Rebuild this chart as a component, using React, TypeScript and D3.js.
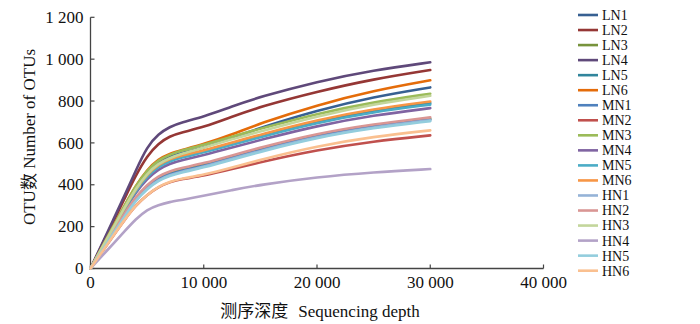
import React from "react";
import * as d3 from "d3";

const depths = [0, 1000, 2000, 3000, 4000, 5000, 6000, 7000, 8000, 10000, 12500, 15000, 20000, 25000, 30000];

const seriesNames = ["LN1", "LN2", "LN3", "LN4", "LN5", "LN6", "MN1", "MN2", "MN3", "MN4", "MN5", "MN6", "HN1", "HN2", "HN3", "HN4", "HN5", "HN6"];

const LN1 = [0, 98, 196, 293, 385, 460, 508, 535, 552, 577, 625, 672, 755, 820, 865];
const LN2 = [0, 110, 222, 333, 445, 538, 598, 632, 650, 675, 725, 773, 845, 905, 948];
const LN3 = [0, 86, 172, 257, 335, 392, 432, 455, 470, 494, 532, 570, 638, 683, 715];
const LN4 = [0, 116, 232, 348, 468, 583, 643, 677, 698, 725, 775, 820, 893, 948, 985];
const LN5 = [0, 95, 190, 285, 376, 445, 492, 518, 535, 558, 596, 634, 703, 755, 790];
const LN6 = [0, 100, 200, 300, 397, 472, 523, 549, 565, 594, 640, 694, 781, 850, 899];
const MN1 = [0, 85, 170, 254, 332, 388, 428, 451, 467, 490, 528, 566, 634, 680, 712];
const MN2 = [0, 78, 156, 232, 302, 352, 390, 413, 427, 442, 475, 508, 566, 608, 636];
const MN3 = [0, 100, 200, 300, 395, 469, 518, 544, 563, 590, 630, 668, 740, 795, 835];
const MN4 = [0, 92, 184, 276, 364, 430, 474, 501, 517, 542, 578, 614, 682, 732, 766];
const MN5 = [0, 94, 188, 282, 372, 440, 487, 513, 530, 554, 591, 628, 697, 748, 783];
const MN6 = [0, 96, 192, 288, 380, 450, 497, 523, 540, 564, 602, 640, 710, 762, 798];
const HN1 = [0, 84, 168, 252, 329, 384, 424, 447, 462, 486, 524, 562, 630, 676, 708];
const HN2 = [0, 88, 176, 262, 342, 400, 442, 465, 480, 502, 540, 578, 645, 690, 722];
const HN3 = [0, 97, 194, 290, 382, 454, 502, 528, 547, 577, 618, 655, 728, 785, 825];
const HN4 = [0, 59, 118, 177, 236, 282, 304, 318, 327, 347, 375, 400, 437, 460, 475];
const HN5 = [0, 83, 166, 249, 325, 380, 420, 443, 458, 482, 520, 558, 626, 672, 704];
const HN6 = [0, 78, 156, 232, 302, 352, 392, 415, 429, 447, 482, 520, 585, 630, 660];

const seriesValues = [LN1, LN2, LN3, LN4, LN5, LN6, MN1, MN2, MN3, MN4, MN5, MN6, HN1, HN2, HN3, HN4, HN5, HN6];

const seriesColors = [
  "#376092", "#953735", "#77933C", "#5F497A", "#31859C", "#E46C0A",
  "#4F81BD", "#C0504D", "#9BBB59", "#8064A2", "#4BACC6", "#F79646",
  "#95B3D7", "#D99694", "#C3D69B", "#B3A2C7", "#93CDDD", "#FAC090",
];

const xTicks = [0, 10000, 20000, 30000, 40000];
const yTicks = [0, 200, 400, 600, 800, 1000, 1200];

const fmt = (v: number) => {
  const s = String(v);
  if (v >= 1000) return s.slice(0, s.length - 3) + " " + s.slice(s.length - 3);
  return s;
};

const FONT = "'Liberation Serif', 'Times New Roman', 'Noto Sans CJK SC', serif";

export default function App() {
  const x = d3.scaleLinear().domain([0, 40000]).range([90.5, 543.5]);
  const y = d3.scaleLinear().domain([0, 1200]).range([268.5, 17.3]);
  const line = d3
    .line<number>()
    .x((_, i) => x(depths[i]))
    .y((d) => y(d))
    .curve(d3.curveBasis);

  return (
    <svg width={700} height={324} style={{ position: "absolute", left: 0, top: 0, background: "#fff" }} fontFamily={FONT}>
      {/* axes */}
      <line x1={x(0)} x2={x(0)} y1={y(1200)} y2={y(0)} stroke="#444" strokeWidth={1.3} />
      <line x1={x(0)} x2={x(40000)} y1={y(0)} y2={y(0)} stroke="#444" strokeWidth={1.3} />
      {yTicks.map((t) => (
        <g key={"y" + t}>
          <line x1={x(0)} x2={x(0) + 4} y1={y(t)} y2={y(t)} stroke="#444" strokeWidth={1.2} />
          <text x={x(0) - 7} y={y(t)} dy="0.33em" textAnchor="end" fontSize={17} fill="#111">
            {fmt(t)}
          </text>
        </g>
      ))}
      {xTicks.map((t) => (
        <g key={"x" + t}>
          <line x1={x(t)} x2={x(t)} y1={y(0)} y2={y(0) - 4} stroke="#444" strokeWidth={1.2} />
          <text x={x(t)} y={y(0) + 19} textAnchor="middle" fontSize={17} fill="#111">
            {fmt(t)}
          </text>
        </g>
      ))}
      <text x={320} y={317} textAnchor="middle" fontSize={17} fill="#111">
        <tspan>测序深度</tspan>
        <tspan dx={10}>Sequencing depth</tspan>
      </text>
      <text transform="translate(35,137) rotate(-90)" textAnchor="middle" fontSize={17} fill="#111">
        OTU数 Number of OTUs
      </text>
      {/* series */}
      {seriesValues.map((vals, i) => (
        <path key={seriesNames[i]} d={line(vals) || ""} fill="none" stroke={seriesColors[i]} strokeWidth={2.6} strokeLinecap="round" />
      ))}
      {/* legend */}
      {seriesNames.map((name, i) => (
        <g key={"lg" + name} transform={`translate(0,${15 + i * 15.04})`}>
          <line x1={578} x2={598} y1={0} y2={0} stroke={seriesColors[i]} strokeWidth={2.6} />
          <text x={602} y={0} dy="0.35em" fontSize={14} fill="#111">
            {name}
          </text>
        </g>
      ))}
    </svg>
  );
}
